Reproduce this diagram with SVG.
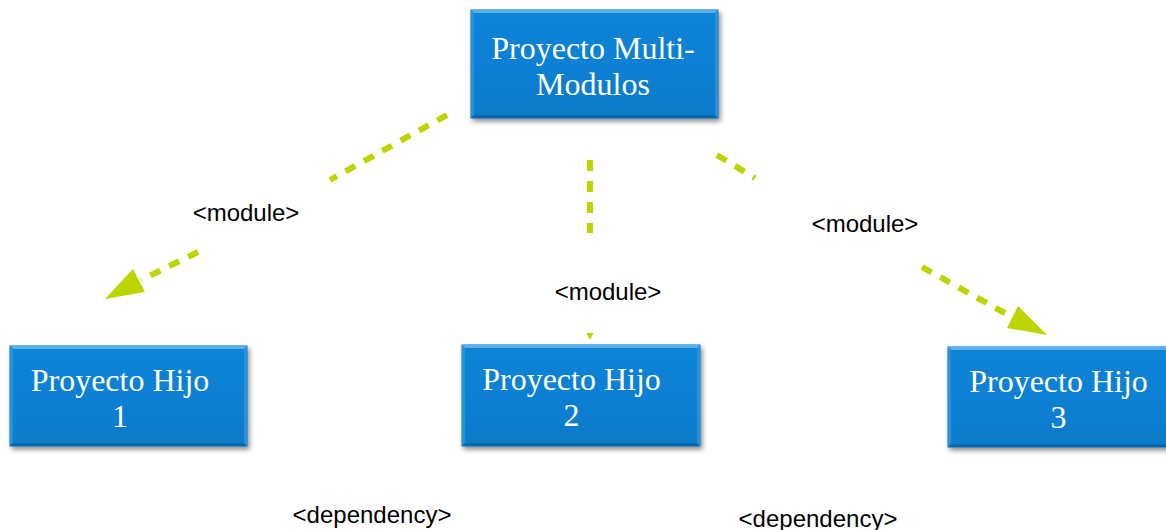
<svg xmlns="http://www.w3.org/2000/svg" width="1166" height="530" viewBox="0 0 1166 530">
  <defs>
    <linearGradient id="boxFill" x1="0" y1="0" x2="0" y2="1">
      <stop offset="0" stop-color="#0e84d6"/>
      <stop offset="0.5" stop-color="#0a80d3"/>
      <stop offset="1" stop-color="#087ac9"/>
    </linearGradient>
    <filter id="shadow" x="-10%" y="-10%" width="125%" height="135%">
      <feDropShadow dx="2" dy="3" stdDeviation="2.5" flood-color="#000" flood-opacity="0.45"/>
    </filter>
    <style>
      .box { fill: url(#boxFill); stroke: #0a6fb8; stroke-width: 1; filter: url(#shadow); }
      .bevelTop { fill: #58b0ec; }
      .bevelSide { fill: #2890dc; }
      .bevelBot { fill: #0868ae; }
      .ntext { font-family: "Liberation Serif", "Times New Roman", serif; font-size: 32px; fill: #ffffff; text-anchor: middle; }
      .lbl { font-family: "Liberation Sans", Arial, sans-serif; font-size: 24px; fill: #000000; text-anchor: middle; }
      .conn { stroke: #bcd400; stroke-width: 6; fill: none; stroke-dasharray: 11 10; }
      .head { fill: #bcd400; }
    </style>
  </defs>

  <g id="connectors">
    <line class="conn" x1="447" y1="115" x2="330" y2="180"/>
    <line class="conn" x1="198" y1="252" x2="141" y2="280"/>
    <polygon class="head" points="105,299 133,269 145,292"/>
    <line class="conn" x1="590" y1="160" x2="590" y2="233"/>
    <polygon class="head" points="590,340 586.5,333 593.5,333"/>
    <line class="conn" x1="717" y1="155" x2="755" y2="178"/>
    <line class="conn" x1="922" y1="267" x2="1010" y2="316"/>
    <polygon class="head" points="1047,335 1007,328 1018,306"/>
  </g>

  <g id="label-module-1"><text class="lbl" x="246" y="221">&lt;module&gt;</text></g>
  <g id="label-module-2"><text class="lbl" x="608" y="300">&lt;module&gt;</text></g>
  <g id="label-module-3"><text class="lbl" x="865" y="232">&lt;module&gt;</text></g>
  <g id="label-dependency-1"><text class="lbl" x="372" y="523">&lt;dependency&gt;</text></g>
  <g id="label-dependency-2"><text class="lbl" x="818" y="527">&lt;dependency&gt;</text></g>

  <g id="node-parent">
    <rect class="box" x="471" y="10" width="247" height="108"/>
    <polygon class="bevelTop" points="471,10 718,10 715,13 474,13"/>
    <polygon class="bevelSide" points="471,10 474,13 474,115 471,118"/>
    <polygon class="bevelBot" points="471,118 474,115 715,115 718,118"/>
    <polygon class="bevelSide" points="718,10 715,13 715,115 718,118"/>
    <text class="ntext" x="593" y="59">Proyecto Multi-</text>
    <text class="ntext" x="593" y="95">Modulos</text>
  </g>

  <g id="node-hijo-1">
    <rect class="box" x="10" y="346" width="237" height="100"/>
    <polygon class="bevelTop" points="10,346 247,346 244,349 13,349"/>
    <polygon class="bevelSide" points="10,346 13,349 13,443 10,446"/>
    <polygon class="bevelBot" points="10,446 13,443 244,443 247,446"/>
    <polygon class="bevelSide" points="247,346 244,349 244,443 247,446"/>
    <text class="ntext" x="120" y="391">Proyecto Hijo</text>
    <text class="ntext" x="120" y="427">1</text>
  </g>

  <g id="node-hijo-2">
    <rect class="box" x="462" y="345" width="238" height="101"/>
    <polygon class="bevelTop" points="462,345 700,345 697,348 465,348"/>
    <polygon class="bevelSide" points="462,345 465,348 465,443 462,446"/>
    <polygon class="bevelBot" points="462,446 465,443 697,443 700,446"/>
    <polygon class="bevelSide" points="700,345 697,348 697,443 700,446"/>
    <text class="ntext" x="571.5" y="390">Proyecto Hijo</text>
    <text class="ntext" x="571.5" y="426">2</text>
  </g>

  <g id="node-hijo-3">
    <rect class="box" x="948" y="347" width="240" height="100"/>
    <polygon class="bevelTop" points="948,347 1188,347 1185,350 951,350"/>
    <polygon class="bevelSide" points="948,347 951,350 951,444 948,447"/>
    <polygon class="bevelBot" points="948,447 951,444 1185,444 1188,447"/>
    <text class="ntext" x="1058.5" y="392">Proyecto Hijo</text>
    <text class="ntext" x="1058.5" y="428">3</text>
  </g>
</svg>
